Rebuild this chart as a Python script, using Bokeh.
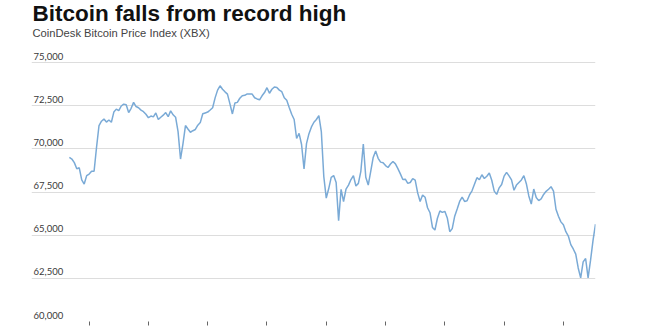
import pandas as pd
from bokeh.plotting import figure
from bokeh.models import Range1d, FixedTicker, Grid, Title, ColumnDataSource
from bokeh.core.properties import value
from bokeh.embed import file_html
from bokeh.resources import INLINE

title_text = "Bitcoin falls from record high"
subtitle_text = "CoinDesk Bitcoin Price Index (XBX)"

# hourly CoinDesk XBX readings, first reading at start_time
start_time = "2024-03-10 16:00"
prices = [
    69500, 69410, 69200, 68850, 68900, 68200, 67960, 68450,
    68540, 68700, 68700, 70090, 71350, 71600, 71730, 71550,
    71670, 71540, 72130, 72300, 72210, 72480, 72590, 72550,
    72100, 72350, 72690, 72450, 72380, 72240, 72150, 72000,
    71800, 71900, 71850, 72080, 71700, 71830, 71950, 72100,
    71860, 72200, 71970, 71830, 71000, 69410, 70300, 71350,
    71150, 70960, 71050, 71120, 71370, 71520, 72030, 72080,
    72130, 72250, 72380, 72950, 73400, 73650, 73450, 73300,
    73170, 72600, 72020, 72650, 72690, 72930, 73080, 73100,
    73180, 73170, 73170, 72960, 72890, 72840, 73070, 73260,
    73540, 73220, 73450, 73580, 73550, 73400, 73310, 72960,
    72810, 72400, 72000, 71700, 70600, 70900, 70250, 68830,
    70300, 70880, 71270, 71540, 71700, 71920, 71000, 68400,
    67150, 67700, 68350, 68450, 68050, 65840, 67650, 66950,
    67670, 67900, 68220, 68450, 67850, 68000, 68700, 70280,
    68350, 67900, 68700, 69500, 69880, 69450, 69230, 69200,
    69030, 68920, 69120, 69270, 69130, 68850, 68550, 68220,
    68240, 68000, 68050, 68280, 68190, 67450, 66950, 67330,
    67200, 66590, 66300, 65450, 65300, 65980, 66400, 66320,
    66380, 66000, 65200, 65380, 66100, 66520, 66950, 67200,
    66950, 66990, 67330, 67570, 67950, 68330, 68210, 68500,
    68280, 68410, 68600, 68180, 67550, 67360, 67740, 67930,
    68420, 68640, 68430, 68200, 67600, 67900, 68050, 68200,
    68450, 67980, 67270, 66800, 67670, 67180, 67000, 67100,
    67360, 67540, 67660, 67810, 67550, 66500, 66100, 65770,
    65600, 65200, 64950, 64450, 64200, 63900, 63100, 62530,
    63450, 63650, 62530, 63550, 64700, 65640,
]

day_ticks = ["2024-03-11", "2024-03-12", "2024-03-13", "2024-03-14", "2024-03-15",
             "2024-03-16", "2024-03-17", "2024-03-18", "2024-03-19"]
y_ticks = [60000, 62500, 65000, 67500, 70000, 72500, 75000]
y_tick_labels = ["60,000", "62,500", "65,000", "67,500", "70,000", "72,500", "75,000"]

x_start = pd.Timestamp("2024-03-10 00:40")
x_end = pd.Timestamp("2024-03-19 13:00")

times = pd.date_range(start_time, periods=len(prices), freq="h")
src = ColumnDataSource(dict(t=times, price=prices))

p = figure(width=659, height=333, x_axis_type="datetime", y_axis_location=None,
           output_backend="svg", toolbar_location=None, title=None,
           x_range=Range1d(x_start, x_end), y_range=Range1d(60000, 76390),
           min_border_left=31, min_border_right=64, min_border_bottom=12, min_border_top=0)
p.outline_line_color = None
p.background_fill_color = "white"
p.border_fill_color = "white"

p.xgrid.visible = False
p.ygrid.visible = False
p.add_layout(Grid(dimension=1, ticker=FixedTicker(ticks=y_ticks),
                  grid_line_color="#dddddd", grid_line_width=1))

tick_ms = [pd.Timestamp(d).value // 10**6 for d in day_ticks]
ax = p.xaxis[0]
ax.ticker = FixedTicker(ticks=tick_ms)
ax.axis_line_color = None
ax.major_tick_line_color = "#666666"
ax.major_tick_in = 0
ax.major_tick_out = 4
ax.minor_tick_line_color = None
ax.major_label_text_font_size = "0px"
ax.major_label_text_color = None
ax.major_label_standoff = 0

p.line("t", "price", source=src, line_color="#7aaad6", line_width=1.5)

lab_src = ColumnDataSource(dict(x=[x_start] * len(y_ticks), y=y_ticks, txt=y_tick_labels))
p.text("x", "y", text="txt", source=lab_src, text_font=value("Lato"), text_font_size="9.5px",
       text_color="#3a3a3a", text_align="left", text_baseline="bottom", x_offset=2, y_offset=-3)

sub = Title(text=subtitle_text, text_font="Liberation Sans", text_font_size="11.2px",
            text_font_style="normal", text_color="#444444", align="left", offset=1, standoff=0)
main = Title(text=title_text, text_font="Liberation Sans", text_font_size="22.5px",
             text_font_style="bold", text_color="#111111", align="left", offset=1, standoff=-3)
p.add_layout(sub, "above")
p.add_layout(main, "above")

open("out.html", "w").write(file_html(p, INLINE))
